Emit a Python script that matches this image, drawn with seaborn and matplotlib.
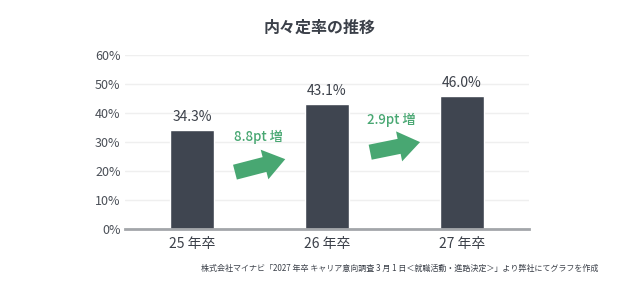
import numpy as np
import pandas as pd
import seaborn as sns
import matplotlib.pyplot as plt
from matplotlib.patches import FancyArrowPatch

# データ
kategorie = ['25 年卒', '26 年卒', '27 年卒']
wartosci = [34.3, 43.1, 46.0]
przyrosty = ['8.8pt 増', '2.9pt 増']
tytul = '内々定率の推移'
zrodlo = '株式会社マイナビ「2027 年卒 キャリア意向調査 3 月 1 日＜就職活動・進路決定＞」より弊社にてグラフを作成'

sns.set_style('white')
plt.rcParams['font.family'] = ['Noto Sans CJK JP', 'DejaVu Sans']

kolor_slupka = '#3f4550'
kolor_tekstu = '#3b4049'
zielony = '#48a772'

df = pd.DataFrame({'kat': kategorie, 'val': wartosci})

fig = plt.figure(figsize=(6.4, 2.9), dpi=100)
ax = fig.add_axes([0.195, 0.211, 0.632, 0.598])
sns.barplot(data=df, x='kat', y='val', color=kolor_slupka, width=0.33, saturation=1, ax=ax)

ax.set_xlim(-0.5, 2.5)
ax.set_ylim(0, 60)
ax.set_yticks(np.arange(0, 61, 10))
ax.set_yticklabels([f'{v}%' for v in range(0, 61, 10)])
ax.yaxis.grid(True, color='#efefef', linewidth=1)
ax.set_axisbelow(True)
for s in ['top', 'right', 'left']:
    ax.spines[s].set_visible(False)
ax.spines['bottom'].set_color('#a3a6aa')
ax.spines['bottom'].set_linewidth(2)
ax.tick_params(axis='y', length=0, labelsize=9, labelcolor='#4a4f57', pad=3)
ax.tick_params(axis='x', length=0, labelsize=10, labelcolor=kolor_tekstu, pad=6)
ax.set_xlabel('')
ax.set_ylabel('')

for i, v in enumerate(wartosci):
    ax.text(i, v + 2, f'{v:.1f}%', ha='center', va='bottom', fontsize=10, color=kolor_tekstu)

# strzałki i opisy przyrostu
pozycje_opisow = [(0.49, 31.7), (1.48, 37.6)]
strzalki = [((0.317, 19.6), (0.69, 24.1)), ((1.32, 26.5), (1.69, 30.0))]
for t, (tx, ty) in zip(przyrosty, pozycje_opisow):
    ax.text(tx, ty, t, ha='center', va='center', fontsize=9.5, color=zielony, fontweight='medium')
for p0, p1 in strzalki:
    a = FancyArrowPatch(p0, p1, arrowstyle='simple,head_length=0.7,head_width=1.0,tail_width=0.5',
                        mutation_scale=22, color=zielony, lw=0, shrinkA=0, shrinkB=0)
    ax.add_patch(a)

fig.text(0.5, 0.905, tytul, ha='center', va='center', fontsize=11.5, fontweight='bold', color=kolor_tekstu)
fig.text(0.935, 0.075, zrodlo, ha='right', va='center', fontsize=5.8, color='#3b4049')

fig.savefig('out.png', dpi=100)
